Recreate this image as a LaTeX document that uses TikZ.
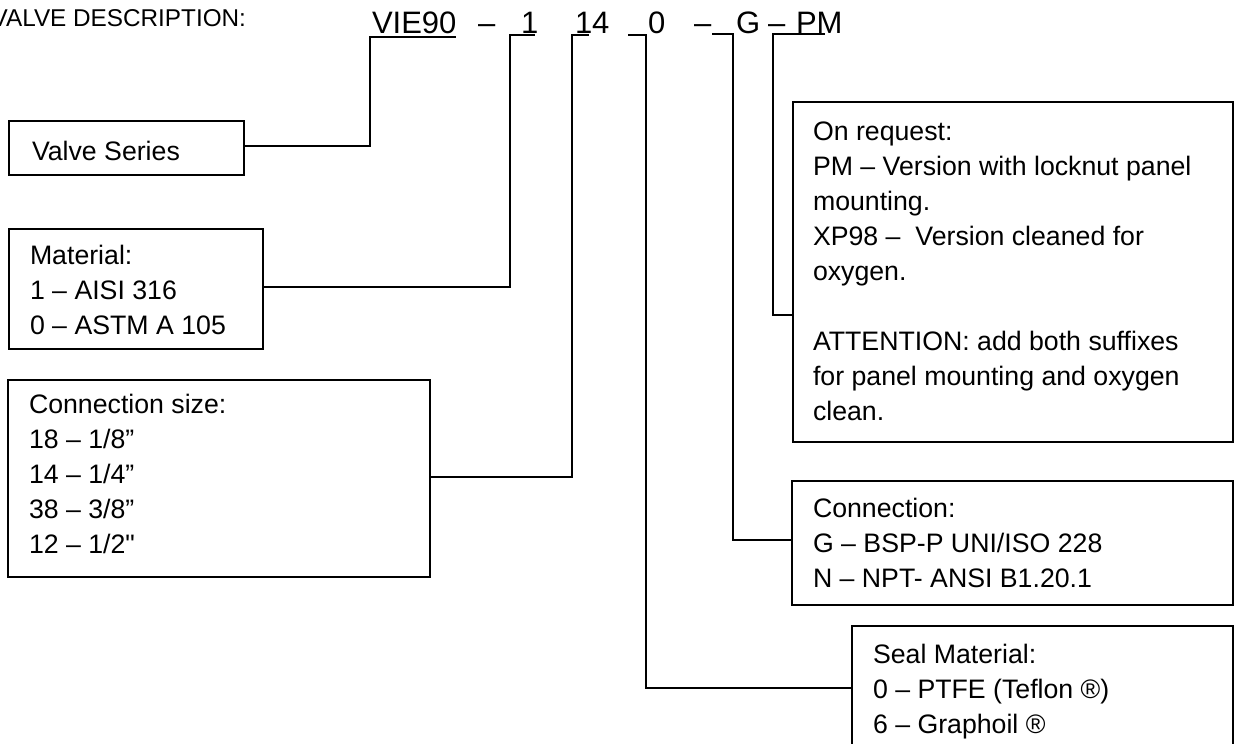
\documentclass[tikz,border=0pt]{standalone}
\usepackage{fontspec}
\setmainfont{Liberation Sans}
\newfontfamily\nomapfont{Liberation Sans}
\begin{document}
\begin{tikzpicture}[x=1pt,y=-1pt,
  box/.style={draw, line width=1.6pt, anchor=north west, inner sep=0pt, outer sep=0pt},
  conn/.style={draw, line width=1.6pt},
  txt/.style={anchor=base west, inner sep=0pt, outer sep=0pt, font=\fontsize{26.7}{35}\selectfont},
  code/.style={anchor=base west, inner sep=0pt, outer sep=0pt, font=\fontsize{31}{37}\selectfont},
  head/.style={anchor=base east, inner sep=0pt, outer sep=0pt, font=\fontsize{24.3}{28}\selectfont}]
\clip (0,0) rectangle (1234,744);
\fill[white] (0,0) rectangle (1234,744);

% header
\node[head] (hd) at (246,26) {VALVE DESCRIPTION:};
\node[code] (cvie) at (372,33) {VIE90};
\node[code] (cd1) at (478,33) {–};
\node[code] (c1) at (521,33) {1};
\node[code] (c14) at (575,33) {14};
\node[code] (c0) at (648,33) {0};
\node[code] (cd2) at (694,33) {–};
\node[code] (cg) at (736,33) {G};
\node[code] (cd3) at (768,33) {–};
\node[code] (cpm) at (796,33) {PM};

% boxes
\node[box, minimum width=235pt, minimum height=54pt] (vs) at (9,121) {};
\node[box, minimum width=254pt, minimum height=120pt] (mat) at (9,229) {};
\node[box, minimum width=422pt, minimum height=197pt] (cs) at (8,380) {};
\node[box, minimum width=440pt, minimum height=340pt] (req) at (793,102) {};
\node[box, minimum width=441pt, minimum height=124pt] (con) at (792,481) {};
\node[box, minimum width=381pt, minimum height=140pt] (seal) at (852,626) {};

% texts
\node[txt] (vst) at (32,160) {Valve Series};
\node[txt] (matt) at (30,264) {\parbox[t]{240pt}{\raggedright Material:\\1 – AISI 316\\0 – ASTM A 105}};
\node[txt] (cst) at (29,413) {\parbox[t]{400pt}{\raggedright Connection size:\\18 – 1/8”\\14 – 1/4”\\38 – 3/8”\\12 – 1/2{\nomapfont "}}};
\node[txt] (reqt) at (813,140) {\parbox[t]{420pt}{\raggedright On request:\\PM – Version with locknut panel\\mounting.\\XP98 –\ \ Version cleaned for\\oxygen.\\\mbox{}\\ATTENTION: add both suffixes\\for panel mounting and oxygen\\clean.}};
\node[txt] (cont) at (813,517) {\parbox[t]{420pt}{\raggedright Connection:\\G – BSP-P UNI/ISO 228\\N – NPT- ANSI B1.20.1}};
\node[txt] (sealt) at (873,663) {\parbox[t]{360pt}{\raggedright Seal Material:\\0 – PTFE (Teflon ®)\\6 – Graphoil ®}};

% connector anchor points under the code
\coordinate (k1) at (370,37);  \coordinate (k1e) at (456,37);
\coordinate (k2) at (510,35);  \coordinate (k2e) at (535,35);
\coordinate (k3) at (572,35);  \coordinate (k3e) at (589,35);
\coordinate (k4) at (646,35);  \coordinate (k4e) at (628,35);
\coordinate (k5) at (733,34);  \coordinate (k5e) at (712,34);
\coordinate (k6) at (773,34);  \coordinate (k6e) at (825,34);

% connectors
\draw[conn] (vs.east |- 0,146) -| (k1) -- (k1e);
\draw[conn] (mat.east |- 0,287) -| (k2) -- (k2e);
\draw[conn] (cs.east |- 0,477) -| (k3) -- (k3e);
\draw[conn] (seal.west |- 0,688) -| (k4) -- (k4e);
\draw[conn] (con.west |- 0,540) -| (k5) -- (k5e);
\draw[conn] (req.west |- 0,315) -| (k6) -- (k6e);
\end{tikzpicture}
\end{document}
